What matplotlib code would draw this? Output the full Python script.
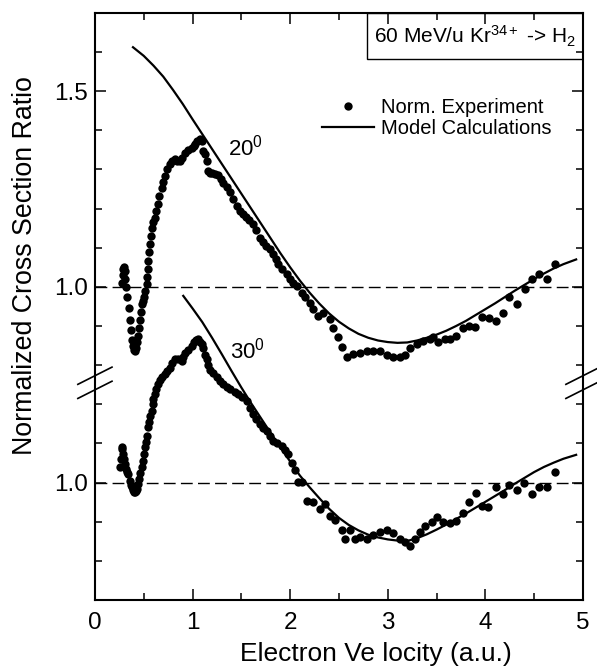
import numpy as np
import matplotlib.pyplot as plt
from matplotlib.ticker import FixedLocator, MultipleLocator
from matplotlib.patches import Rectangle
import matplotlib.transforms as mtransforms

plt.rcParams['font.family'] = ['Liberation Sans', 'DejaVu Sans']
plt.rcParams['mathtext.fontset'] = 'custom'
plt.rcParams['mathtext.rm'] = 'Liberation Sans'
plt.rcParams['mathtext.it'] = 'Liberation Sans'

# 20 deg experiment (normalized ratio)
x20 = [0.28, 0.285, 0.29, 0.30, 0.305, 0.31, 0.32, 0.33, 0.345, 0.36, 0.37, 0.38, 0.39, 0.40,
       0.41, 0.42, 0.43, 0.44, 0.45, 0.46, 0.47, 0.48, 0.49, 0.505, 0.515, 0.53, 0.535, 0.54,
       0.546, 0.555, 0.564, 0.575, 0.587, 0.60, 0.615, 0.63, 0.642, 0.66, 0.683, 0.70, 0.717,
       0.74, 0.768, 0.79, 0.82, 0.845, 0.871, 0.895, 0.922, 0.95, 0.99, 1.01, 1.03, 1.05, 1.076,
       1.093, 1.11, 1.127, 1.144, 1.161, 1.178, 1.2, 1.23, 1.264, 1.29, 1.315, 1.35, 1.383, 1.41,
       1.452, 1.49, 1.52, 1.55, 1.58, 1.622, 1.65, 1.69, 1.72, 1.75, 1.793, 1.82, 1.85, 1.878,
       1.92, 1.965, 2.0, 2.03, 2.067, 2.118, 2.152, 2.203, 2.237, 2.288, 2.339, 2.408, 2.442,
       2.493, 2.527, 2.579, 2.647, 2.715, 2.783, 2.852, 2.92, 2.989, 3.057, 3.125, 3.176, 3.227,
       3.296, 3.364, 3.432, 3.46, 3.518, 3.586, 3.637, 3.699, 3.767, 3.835, 3.893, 3.962, 4.04,
       4.109, 4.177, 4.245, 4.327, 4.406, 4.474, 4.552, 4.634, 4.713]
y20 = [1.01, 1.03, 1.045, 1.05, 1.04, 1.02, 1.0, 0.975, 0.945, 0.915, 0.89, 0.865, 0.85, 0.84,
       0.837, 0.845, 0.86, 0.875, 0.895, 0.915, 0.935, 0.955, 0.965, 0.975, 0.99, 1.007, 1.025,
       1.045, 1.066, 1.088, 1.109, 1.13, 1.151, 1.165, 1.177, 1.195, 1.211, 1.232, 1.253, 1.268,
       1.283, 1.3, 1.313, 1.322, 1.326, 1.322, 1.321, 1.33, 1.343, 1.35, 1.355, 1.36, 1.365,
       1.372, 1.377, 1.372, 1.347, 1.339, 1.321, 1.296, 1.29, 1.29, 1.288, 1.285, 1.275, 1.266,
       1.255, 1.241, 1.225, 1.207, 1.195, 1.185, 1.178, 1.17, 1.16, 1.145, 1.126, 1.115, 1.105,
       1.096, 1.085, 1.07, 1.058, 1.045, 1.032, 1.02, 1.01, 1.003, 0.985, 0.975, 0.958, 0.943,
       0.926, 0.934, 0.918, 0.896, 0.872, 0.847, 0.82, 0.828, 0.83, 0.837, 0.837, 0.835, 0.827,
       0.82, 0.821, 0.827, 0.845, 0.854, 0.862, 0.867, 0.871, 0.858, 0.867, 0.867, 0.875, 0.895,
       0.901, 0.898, 0.923, 0.92, 0.912, 0.934, 0.973, 0.957, 0.994, 1.02, 1.032, 1.02, 1.058]

# 30 deg experiment (normalized ratio)
x30 = [0.256, 0.265, 0.273, 0.28, 0.29, 0.30, 0.307, 0.32, 0.33, 0.341, 0.355, 0.365, 0.376,
       0.39, 0.40, 0.41, 0.42, 0.43, 0.444, 0.455, 0.465, 0.478, 0.49, 0.50, 0.512, 0.52, 0.53,
       0.546, 0.555, 0.565, 0.581, 0.59, 0.60, 0.615, 0.63, 0.649, 0.67, 0.69, 0.717, 0.74,
       0.768, 0.79, 0.82, 0.85, 0.888, 0.905, 0.922, 0.95, 0.99, 1.02, 1.04, 1.059, 1.08, 1.093,
       1.11, 1.127, 1.144, 1.16, 1.178, 1.21, 1.247, 1.28, 1.315, 1.35, 1.383, 1.43, 1.468,
       1.51, 1.554, 1.59, 1.622, 1.655, 1.69, 1.72, 1.759, 1.79, 1.827, 1.87, 1.913, 1.95,
       1.981, 2.02, 2.049, 2.083, 2.118, 2.169, 2.237, 2.305, 2.357, 2.408, 2.459, 2.527, 2.562,
       2.613, 2.664, 2.715, 2.783, 2.852, 2.92, 2.989, 3.057, 3.125, 3.176, 3.227, 3.279, 3.33,
       3.381, 3.449, 3.507, 3.569, 3.637, 3.699, 3.767, 3.835, 3.903, 3.962, 4.03, 4.109, 4.177,
       4.245, 4.32, 4.395, 4.474, 4.552, 4.628, 4.713]
y30 = [1.039, 1.06, 1.09, 1.085, 1.073, 1.06, 1.048, 1.035, 1.028, 1.022, 1.005, 0.995, 0.988,
       0.98, 0.976, 0.975, 0.978, 0.985, 0.997, 1.01, 1.025, 1.039, 1.055, 1.072, 1.09, 1.105,
       1.12, 1.141, 1.155, 1.17, 1.184, 1.2, 1.213, 1.226, 1.24, 1.252, 1.262, 1.27, 1.277,
       1.285, 1.294, 1.305, 1.316, 1.315, 1.311, 1.322, 1.332, 1.34, 1.349, 1.358, 1.363, 1.367,
       1.36, 1.354, 1.345, 1.325, 1.316, 1.3, 1.288, 1.28, 1.269, 1.26, 1.252, 1.245, 1.239,
       1.232, 1.226, 1.218, 1.209, 1.19, 1.175, 1.162, 1.15, 1.14, 1.133, 1.12, 1.107, 1.1,
       1.094, 1.083, 1.073, 1.05, 1.031, 1.001, 1.001, 0.954, 0.95, 0.933, 0.946, 0.916, 0.905,
       0.879, 0.856, 0.879, 0.856, 0.86, 0.856, 0.865, 0.873, 0.878, 0.871, 0.856, 0.848, 0.839,
       0.856, 0.873, 0.89, 0.899, 0.913, 0.899, 0.896, 0.903, 0.922, 0.95, 0.973, 0.941, 0.939,
       0.988, 0.971, 0.995, 0.98, 0.998, 0.971, 0.99, 0.988, 1.026]

# model calculations
mx20 = [0.39, 0.5, 0.6, 0.7, 0.8, 0.9, 1.0, 1.1, 1.2, 1.3, 1.4, 1.5, 1.6, 1.7, 1.8, 1.9,
        2.0, 2.1, 2.2, 2.3, 2.4, 2.5, 2.6, 2.7, 2.8, 2.9, 3.0, 3.1, 3.2, 3.3, 3.4, 3.5, 3.6,
        3.7, 3.8, 3.9, 4.0, 4.1, 4.2, 4.3, 4.4, 4.5, 4.6, 4.7, 4.8, 4.93]
my20 = [1.612, 1.59, 1.565, 1.537, 1.503, 1.467, 1.428, 1.39, 1.352, 1.314, 1.276, 1.238,
        1.2, 1.162, 1.124, 1.086, 1.05, 1.016, 0.985, 0.957, 0.932, 0.911, 0.894, 0.88, 0.87,
        0.863, 0.859, 0.857, 0.858, 0.863, 0.87, 0.878, 0.888, 0.9, 0.913, 0.928, 0.943,
        0.958, 0.974, 0.99, 1.005, 1.02, 1.034, 1.047, 1.058, 1.07]
mx30 = [0.905, 1.0, 1.1, 1.2, 1.3, 1.4, 1.5, 1.6, 1.7, 1.8, 1.9, 2.0, 2.1, 2.2, 2.3, 2.4,
        2.5, 2.6, 2.7, 2.8, 2.9, 3.0, 3.1, 3.2, 3.3, 3.4, 3.5, 3.6, 3.7, 3.8, 3.9, 4.0, 4.1,
        4.2, 4.3, 4.4, 4.5, 4.6, 4.7, 4.8, 4.93]
my30 = [1.477, 1.445, 1.41, 1.37, 1.328, 1.285, 1.243, 1.203, 1.165, 1.127, 1.09, 1.054,
        1.018, 0.988, 0.96, 0.933, 0.91, 0.892, 0.878, 0.867, 0.86, 0.855, 0.852, 0.851,
        0.858, 0.868, 0.88, 0.893, 0.907, 0.921, 0.936, 0.951, 0.966, 0.981, 0.997, 1.012,
        1.027, 1.04, 1.051, 1.061, 1.071]

offset = 0.5  # lower panel shifted down

fig = plt.figure(figsize=(5.97, 6.72), dpi=100)
ax = fig.add_axes([0.159, 0.107, 0.8175, 0.874])

ax.axhline(1.0, color='black', lw=1.0, dashes=(8.5, 3.8))
ax.axhline(1.0 - offset, color='black', lw=1.0, dashes=(8.5, 3.8))

ax.plot(x20, y20, 'o', color='black', ms=6, mew=0, label='Norm. Experiment')
ax.plot(x30, np.array(y30) - offset, 'o', color='black', ms=6, mew=0)
ax.plot(mx20, my20, '-', color='black', lw=1.6, label='Model Calculations')
ax.plot(mx30, np.array(my30) - offset, '-', color='black', lw=1.6)

ax.set_xlim(0, 5)
ax.set_ylim(0.2, 1.7)

ax.xaxis.set_major_locator(MultipleLocator(1))
ax.xaxis.set_minor_locator(MultipleLocator(0.5))
ax.yaxis.set_major_locator(FixedLocator([0.5, 1.0, 1.5]))
ax.set_yticklabels(['1.0', '1.0', '1.5'])
ax.yaxis.set_minor_locator(MultipleLocator(0.1))
ax.tick_params(which='both', direction='in', top=True, right=True, width=1.1,
               labelsize=17.5)
ax.tick_params(which='major', length=8)
ax.tick_params(which='minor', length=5)
ax.tick_params(axis='x', pad=8.5)
ax.tick_params(axis='y', pad=5)
for s in ax.spines.values():
    s.set_linewidth(1.5)

ax.set_xlabel('Electron Ve locity (a.u.)', fontsize=19)
ax.set_ylabel('Normalized Cross Section Ratio', fontsize=19.3)
ax.xaxis.set_label_coords(0.576, -0.072)
ax.yaxis.set_label_coords(-0.116, 0.57)

ax.text(1.36, 1.355, '20$^{0}$', fontsize=16, va='center', ha='left')
ax.text(1.38, 0.837, '30$^{0}$', fontsize=16, va='center', ha='left')

ax.add_patch(Rectangle((0.557, 0.921), 0.443, 0.079, transform=ax.transAxes,
                       fill=False, lw=1.0, ec='black'))
ax.text(0.7785, 0.96, '60 MeV/u Kr$^{34+}$ -> H$_{2}$', transform=ax.transAxes,
        fontsize=15, ha='center', va='center')

ax.legend(loc='upper left', bbox_to_anchor=(0.465, 0.855), frameon=False,
          fontsize=14.5, handlelength=2.6, handletextpad=0.35, labelspacing=0.1,
          borderpad=0, borderaxespad=0)

# axis break marks
brk = 0.755
tr = mtransforms.blended_transform_factory(ax.transAxes, ax.transData)
for xa in (0.0, 1.0):
    for dy in (-0.018, 0.018):
        ax.plot([xa - 0.035, xa + 0.035], [brk + dy - 0.022, brk + dy + 0.022],
                transform=tr, color='black', lw=1.2, clip_on=False)

fig.savefig('out.png', dpi=100)
